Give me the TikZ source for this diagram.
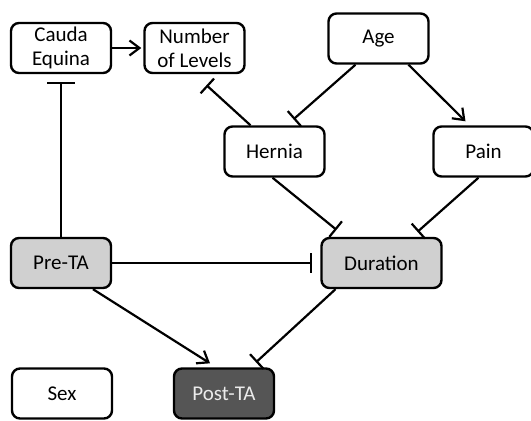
\documentclass[tikz,border=0pt]{standalone}
\usepackage{fontspec}
\setmainfont{Carlito}
\usetikzlibrary{arrows.meta}
\definecolor{lightfill}{RGB}{208,208,208}
\definecolor{darkfill}{RGB}{85,85,85}
\definecolor{lighttext}{RGB}{235,235,235}
\begin{document}
\begin{tikzpicture}[x=1pt,y=-1pt,
  box/.style={draw=black, line width=2.4pt, rounded corners=8pt, fill=white,
    minimum width=100pt, minimum height=50pt, align=center, inner sep=1pt,
    font=\fontsize{21}{24}\selectfont},
  edge/.style={line width=2.2pt},
  arr/.style={edge, -{Straight Barb[length=10pt,width=15pt,line width=2.2pt]}},
  inh/.style={edge, -{Bar[width=20pt,line width=2.2pt]}}
]
\useasboundingbox (0,0) rectangle (531,421);

\node[box] (cauda) at (61,48) {Cauda\\Equina};
\node[box] (levels) at (194.5,48) {Number\\of Levels};
\node[box] (age) at (378.5,38.5) {Age};
\node[box] (hernia) at (274.5,151.5) {Hernia};
\node[box] (pain) at (483.5,151.5) {Pain};
\node[box, fill=lightfill, minimum width=120pt] (duration) at (381.5,263) {Duration};
\node[box, fill=lightfill] (pre) at (61,263) {Pre-TA};
\node[box] (sex) at (62,393.5) {Sex};
\node[box, fill=darkfill, text=lighttext] (post) at (224,393.5) {Post-TA};

\draw[arr, shorten >=2pt] (cauda) -- (levels);
\draw[edge, -{Bar[width=28pt,line width=2.2pt]}, shorten >=8pt] (pre) -- (cauda);
\draw[inh] ([xshift=-24pt]hernia.north) -- ([xshift=12pt,yshift=-11pt]levels.south);
\draw[inh] ([xshift=-23pt]age.south) -- ([xshift=19pt,yshift=6pt]hernia.north);
\draw[arr] ([xshift=30pt]age.south) -- ([xshift=-18pt,yshift=4pt]pain.north);
\draw[inh] ([xshift=-2pt]hernia.south) -- ([xshift=-45pt,yshift=7pt]duration.north);
\draw[inh] ([xshift=-5pt]pain.south) -- ([xshift=36pt,yshift=5pt]duration.north);
\draw[inh, shorten >=8pt] (pre) -- (duration);
\draw[arr] ([xshift=32pt]pre.south) -- ([xshift=-14pt,yshift=4pt]post.north);
\draw[inh] ([xshift=-46pt]duration.south) -- ([xshift=32pt,yshift=5pt]post.north);
\end{tikzpicture}
\end{document}
